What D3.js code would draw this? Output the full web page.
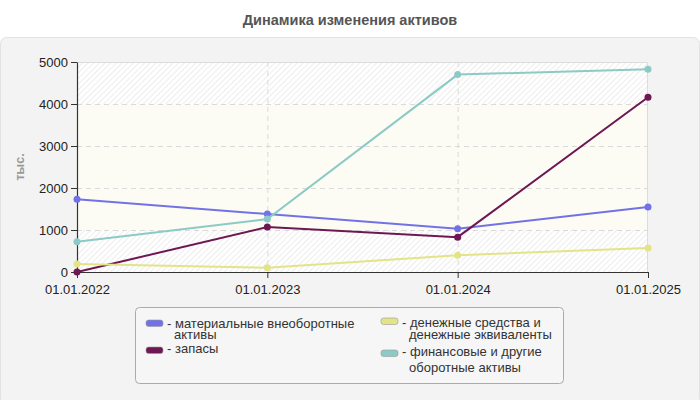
<!DOCTYPE html>
<html>
<head>
<meta charset="utf-8">
<script src="https://cdn.jsdelivr.net/npm/d3@7"></script>
<style>
  body { margin: 0; background: #fff; }
  svg { font-family: "Liberation Sans", Arial, sans-serif; }
</style>
</head>
<body>
<div id="chart"></div>
<script>
const dates = ["01.01.2022", "01.01.2023", "01.01.2024", "01.01.2025"];
const yTicks = [0, 1000, 2000, 3000, 4000, 5000];

const seriesNames = [
  ["материальные внеоборотные", "активы"],
  ["запасы"],
  ["денежные средства и", "денежные эквиваленты"],
  ["финансовые и другие", "оборотные активы"]
];
const seriesColors = ["#7272e6", "#6e1752", "#e3e388", "#8ccac6"];

const materialValues = [1730, 1380, 1030, 1550];
const zapasyValues = [0, 1070, 830, 4160];
const cashValues = [190, 100, 400, 570];
const finValues = [720, 1260, 4700, 4830];
const allValues = [materialValues, zapasyValues, cashValues, finValues];

const W = 700, H = 400;
const margin = {left: 77, right: 52, top: 62, bottom: 128};
const width = W - margin.left - margin.right,
    height = H - margin.top - margin.bottom;

const svg = d3.select("#chart").append("svg")
    .attr("width", W)
    .attr("height", H);

const defs = svg.append("defs");
const hatch = defs.append("pattern")
    .attr("id", "hatch")
    .attr("patternUnits", "userSpaceOnUse")
    .attr("width", 4).attr("height", 4)
    .attr("patternTransform", "rotate(45)");
hatch.append("rect").attr("width", 4).attr("height", 4).attr("fill", "#fff");
hatch.append("line")
    .attr("x1", 0).attr("y1", 0).attr("x2", 0).attr("y2", 4)
    .attr("stroke", "#e8e8e8").attr("stroke-width", 1.5);

// title
svg.append("text")
    .attr("x", W / 2).attr("y", 25)
    .attr("text-anchor", "middle")
    .attr("font-size", "14.5px").attr("font-weight", "bold")
    .attr("fill", "#555")
    .text("Динамика изменения активов");

// panel
svg.append("rect")
    .attr("x", 0.5).attr("y", 37.5)
    .attr("width", W - 1).attr("height", H - 38 + 5)
    .attr("rx", 6)
    .attr("fill", "#f3f3f3")
    .attr("stroke", "#e2e2e2");

const g = svg.append("g")
    .attr("transform", "translate(" + margin.left + ", " + margin.top + ")");

const xScale = d3.scalePoint()
    .domain(dates)
    .range([0, width]);

const yScale = d3.scaleLinear()
    .domain([0, 5000])
    .range([height, 0]);

// plot background
g.append("rect")
    .attr("width", width).attr("height", height)
    .attr("fill", "url(#hatch)");
g.append("rect")
    .attr("x", 0).attr("y", yScale(4000))
    .attr("width", width).attr("height", yScale(1000) - yScale(4000))
    .attr("fill", "#fcfcf4");
g.append("path")
    .attr("d", "M0,0.5H" + (width - 0.5) + "V" + height)
    .attr("fill", "none").attr("stroke", "#dcdcdc");

// grid
g.append("g").selectAll("line").data(yTicks.slice(1, -1)).join("line")
    .attr("x1", 0).attr("x2", width)
    .attr("y1", d => yScale(d) + 0.5).attr("y2", d => yScale(d) + 0.5)
    .attr("stroke", "#dadada").attr("stroke-dasharray", "5,4");
g.append("g").selectAll("line").data(dates.slice(1, -1)).join("line")
    .attr("x1", d => xScale(d) + 0.5).attr("x2", d => xScale(d) + 0.5)
    .attr("y1", 0).attr("y2", height)
    .attr("stroke", "#dadada").attr("stroke-dasharray", "5,4");

// axes
const xAxisGroup = g.append("g")
    .attr("transform", "translate(0, " + height + ")")
    .call(d3.axisBottom(xScale).tickSize(6).tickSizeOuter(0));
const yAxisGroup = g.append("g")
    .call(d3.axisLeft(yScale).tickValues(yTicks).tickFormat(d3.format("d"))
      .tickSize(6).tickSizeOuter(0));

[xAxisGroup, yAxisGroup].forEach(ax => {
  ax.attr("font-family", "Liberation Sans, Arial, sans-serif").attr("font-size", 13);
  ax.select(".domain").attr("stroke", "#333").attr("stroke-width", 1.2);
  ax.selectAll(".tick line").attr("stroke", "#333");
  ax.selectAll("text").attr("fill", "#222");
});
xAxisGroup.selectAll("text").attr("dy", "1.0em");

g.append("text")
    .text("тыс.")
    .attr("x", -yScale(2500)).attr("y", -53)
    .attr("transform", "rotate(-90)")
    .attr("text-anchor", "middle")
    .attr("font-size", "12.5px").attr("font-weight", "bold")
    .attr("fill", "#999");

// lines
const line = d3.line()
    .x((d, i) => xScale(dates[i]))
    .y(d => yScale(d));

allValues.forEach((vals, k) => {
  g.append("path")
    .datum(vals)
    .attr("d", line)
    .attr("fill", "none")
    .attr("stroke", seriesColors[k])
    .attr("stroke-width", 2);
  g.append("g").selectAll("circle").data(vals).join("circle")
    .attr("cx", (d, i) => xScale(dates[i]))
    .attr("cy", d => yScale(d))
    .attr("r", 3.5)
    .attr("fill", seriesColors[k]);
});

// legend
const legend = svg.append("g");
legend.append("rect")
    .attr("x", 135.5).attr("y", 307.5)
    .attr("width", 428).attr("height", 76)
    .attr("rx", 4)
    .attr("fill", "#f6f6f6")
    .attr("stroke", "#aaa");

// swatch top, text baselines per entry
const legendPos = [
  {x: 146, sy: 320, ty: [328, 339]},
  {x: 146, sy: 347, ty: [353]},
  {x: 381, sy: 318, ty: [327, 339]},
  {x: 381, sy: 350, ty: [356, 372]}
];

seriesNames.forEach((names, k) => {
  const p = legendPos[k];
  legend.append("rect")
    .attr("x", p.x).attr("y", p.sy)
    .attr("width", 17).attr("height", 6.5)
    .attr("rx", 2.5)
    .attr("fill", seriesColors[k])
    .attr("stroke", "#999").attr("stroke-width", 0.6);
  names.forEach((s, j) => {
    legend.append("text")
      .attr("x", j === 0 ? p.x + 21 : p.x + 28)
      .attr("y", p.ty[j])
      .attr("font-size", "13px")
      .attr("fill", "#333")
      .text((j === 0 ? "- " : "") + s);
  });
});
</script>
</body>
</html>
